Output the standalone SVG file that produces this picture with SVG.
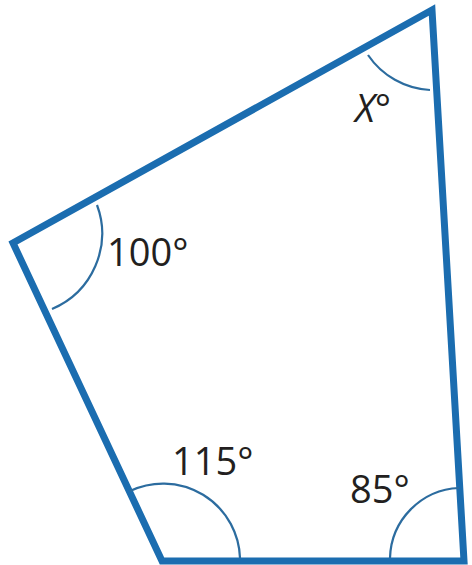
<svg xmlns="http://www.w3.org/2000/svg" width="472" height="565" viewBox="0 0 472 565">
<style>
.edge{fill:none;stroke:#1b6db0;stroke-width:7;stroke-linejoin:miter;stroke-miterlimit:20}
.arc{fill:none;stroke:#2c6c9f;stroke-width:2.2}
.lbl{font-family:"Open Sans","Liberation Sans",sans-serif;font-size:38px;fill:#231f20}
</style>
<rect width="472" height="565" fill="#ffffff"/>
<g id="connectors">
<polygon class="edge" points="432,10 13,243 162,561 464,561"/>
</g>
<g id="angle-x">
<path class="arc" d="M368,55 A80,80 0 0,0 430,90"/>
<text class="lbl" x="355" y="122" font-style="italic" font-size="35">X°</text>
</g>
<g id="angle-100">
<path class="arc" d="M97,205 A82,82 0 0,1 52,309"/>
<text class="lbl" x="107" y="266">100°</text>
</g>
<g id="angle-115">
<path class="arc" d="M130,491 A77,77 0 0,1 240,558"/>
<text class="lbl" x="172" y="475">115°</text>
</g>
<g id="angle-85">
<path class="arc" d="M459,488 A72,72 0 0,0 390,558"/>
<text class="lbl" x="350" y="503">85°</text>
</g>
</svg>
